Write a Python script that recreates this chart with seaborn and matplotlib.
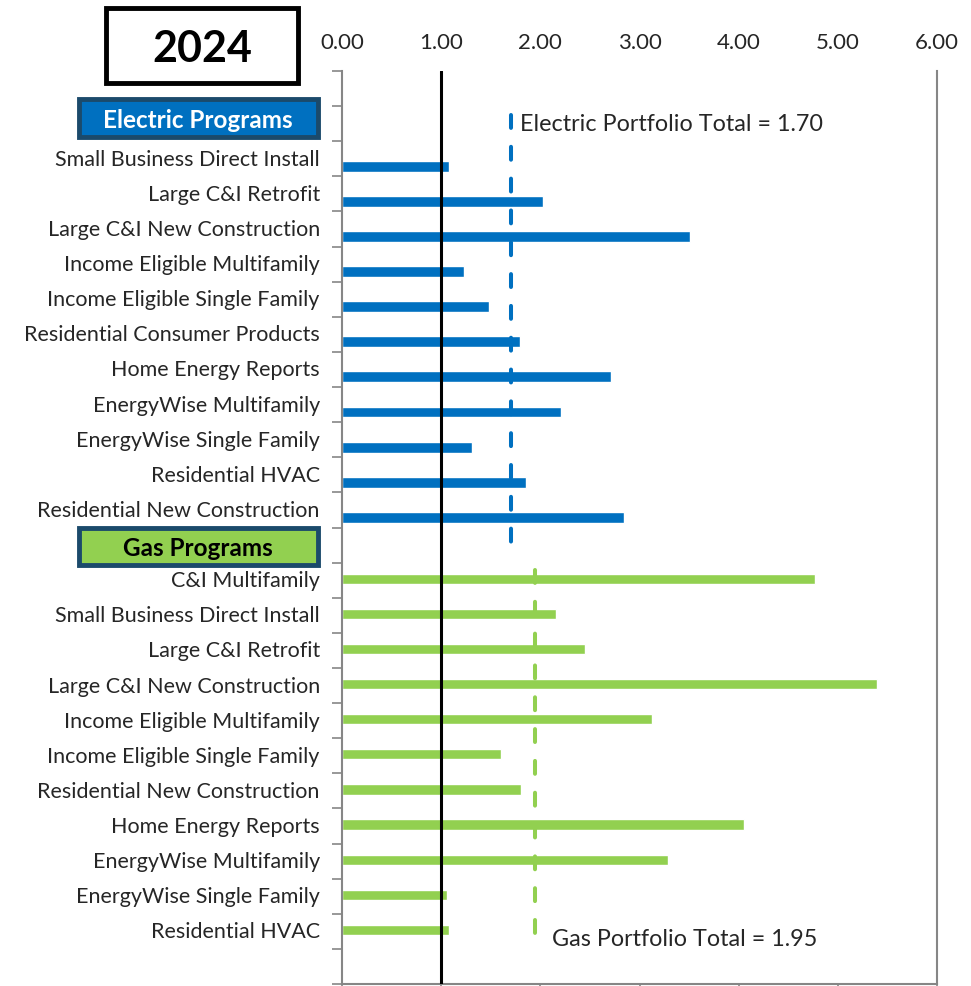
import matplotlib
matplotlib.use("Agg")
import matplotlib.pyplot as plt
import seaborn as sns
import pandas as pd
import numpy as np
from matplotlib.patches import Rectangle

sns.set_theme(style="white")
plt.rcParams['font.family'] = ['Lato', 'DejaVu Sans']

# ---------------- data ----------------
electric_programs = [
    "Small Business Direct Install", "Large C&I Retrofit", "Large C&I New Construction",
    "Income Eligible Multifamily", "Income Eligible Single Family",
    "Residential Consumer Products", "Home Energy Reports", "EnergyWise Multifamily",
    "EnergyWise Single Family", "Residential HVAC", "Residential New Construction",
]
electric_values = [1.08, 2.03, 3.51, 1.23, 1.48, 1.79, 2.71, 2.21, 1.31, 1.86, 2.84]

gas_programs = [
    "C&I Multifamily", "Small Business Direct Install", "Large C&I Retrofit",
    "Large C&I New Construction", "Income Eligible Multifamily",
    "Income Eligible Single Family", "Residential New Construction",
    "Home Energy Reports", "EnergyWise Multifamily", "EnergyWise Single Family",
    "Residential HVAC",
]
gas_values = [4.77, 2.16, 2.45, 5.39, 3.13, 1.60, 1.81, 4.05, 3.29, 1.06, 1.08]

electric_total = 1.70
gas_total = 1.95
year_label = "2024"
x_ticks = [0, 1, 2, 3, 4, 5, 6]

BLUE = "#0070C0"
GREEN = "#92D050"
BORDER = "#1B4A6B"
GREY = "#868686"
TEXT = "#262626"

# ---------------- layout ----------------
W, H = 971, 987
fig = plt.figure(figsize=(W / 100, H / 100), dpi=100)
ax = fig.add_axes([342 / W, 1 - 985 / H, (937 - 342) / W, (985 - 72) / H])

n_rows = 26
e_rows = np.arange(2, 2 + len(electric_programs))
g_rows = np.arange(14, 14 + len(gas_programs))

df_e = pd.DataFrame({"pos": e_rows + 0.5 + 0.21, "value": electric_values})
df_g = pd.DataFrame({"pos": g_rows + 0.5 - 0.04, "value": gas_values})

sns.barplot(data=df_e, x="value", y="pos", orient="h", native_scale=True,
            width=0.31, color=BLUE, saturation=1, ax=ax)
sns.barplot(data=df_g, x="value", y="pos", orient="h", native_scale=True,
            width=0.29, color=GREEN, saturation=1, ax=ax)

ax.set_xlim(0, 6)
ax.set_ylim(n_rows, 0)
ax.set_xlabel("")
ax.set_ylabel("")

# x axis: labels on top, tick marks at bottom
ax.set_xticks(x_ticks)
ax.set_xticklabels([f"{v:.2f}" for v in x_ticks])
ax.tick_params(axis="x", top=False, bottom=True, labeltop=True, labelbottom=False,
               direction="out", length=6, width=1.2, color=GREY, labelsize=16,
               labelcolor=TEXT, pad=8)

# y axis: tick marks at row boundaries, labels at row centres
ax.set_yticks(np.arange(0, n_rows + 1))
ax.set_yticklabels([])
ax.tick_params(axis="y", which="major", left=True, direction="out", length=7,
               width=1.2, color=GREY)
label_pos = list(e_rows + 0.5) + list(g_rows + 0.5)
label_txt = electric_programs + gas_programs
ax.set_yticks(label_pos, minor=True)
ax.set_yticklabels(label_txt, minor=True)
ax.tick_params(axis="y", which="minor", length=0, labelsize=15.5, pad=16,
               labelcolor=TEXT)
for lbl in ax.get_yticklabels(minor=True):
    lbl.set_va("center")

for side in ["left", "right", "bottom"]:
    ax.spines[side].set_color(GREY)
    ax.spines[side].set_linewidth(1.5)
    ax.spines[side].set_visible(True)
ax.spines["top"].set_visible(False)

# reference line at 1.0
ax.axvline(1.0, color="black", lw=2.2, zorder=5)

# portfolio totals
ax.vlines(electric_total, 1.25, 13.9, colors=BLUE, lw=2.9,
          linestyles=(0, (3.2, 4.7)), capstyle="round", zorder=4)
ax.vlines(gas_total, 14.2, 24.7, colors=GREEN, lw=2.9,
          linestyles=(0, (3.2, 4.7)), capstyle="round", zorder=4)
ax.text(electric_total + 0.1, 1.5, f"Electric Portfolio Total = {electric_total:.2f}",
        fontsize=16.8, color=TEXT, va="center", ha="left")
ax.text(gas_total + 0.17, 24.7, f"Gas Portfolio Total = {gas_total:.2f}",
        fontsize=16.8, color=TEXT, va="center", ha="left")


def fig_rect(x0, y0, x1, y1, **kw):
    r = Rectangle((x0 / W, 1 - y1 / H), (x1 - x0) / W, (y1 - y0) / H,
                  transform=fig.transFigure, **kw)
    fig.patches.append(r)


# year box
fig_rect(106, 9, 298, 84, facecolor="white", edgecolor="black", lw=3.5)
fig.text(202 / W, 1 - 49 / H, year_label, fontsize=31, fontweight="bold",
         ha="center", va="center", color="black")

# section headers
fig_rect(79, 100, 318, 138, facecolor=BLUE, edgecolor=BORDER, lw=3.5)
fig.text(198 / W, 1 - 120 / H, "Electric Programs", fontsize=17.5, fontweight="bold",
         ha="center", va="center", color="white")
fig_rect(79, 529, 318, 566, facecolor=GREEN, edgecolor=BORDER, lw=3.5)
fig.text(198 / W, 1 - 548 / H, "Gas Programs", fontsize=17.5, fontweight="bold",
         ha="center", va="center", color="black")

fig.savefig("out.png", dpi=100)
